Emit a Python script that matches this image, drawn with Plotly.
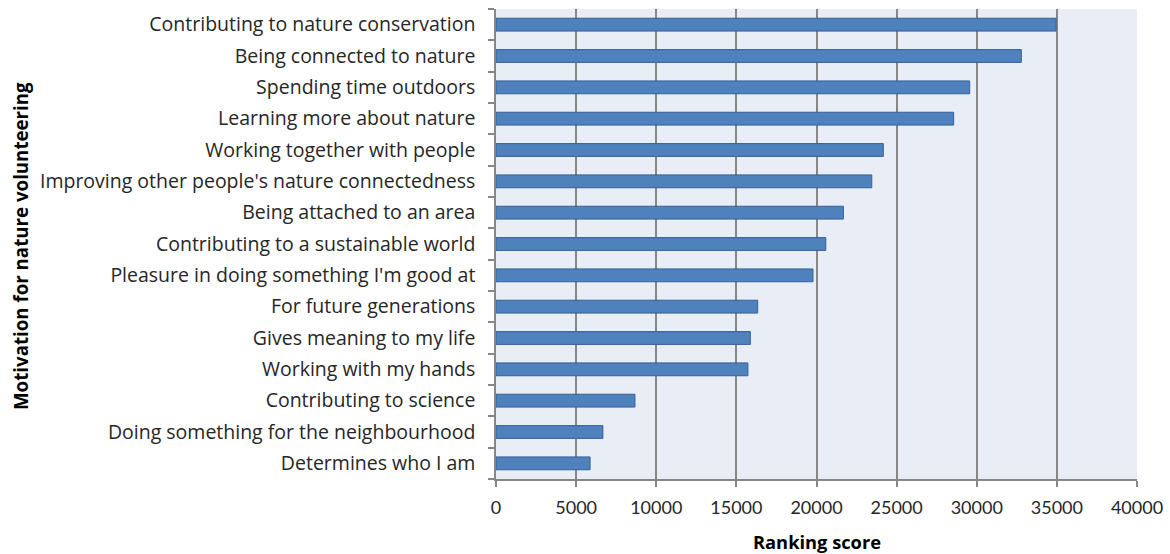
import plotly.graph_objects as go

categories = [
    "Contributing to nature conservation",
    "Being connected to nature",
    "Spending time outdoors",
    "Learning more about nature",
    "Working together with people",
    "Improving other people's nature connectedness",
    "Being attached to an area",
    "Contributing to a sustainable world",
    "Pleasure in doing something I'm good at",
    "For future generations",
    "Gives meaning to my life",
    "Working with my hands",
    "Contributing to science",
    "Doing something for the neighbourhood",
    "Determines who I am",
]
scores = [34950, 32780, 29560, 28560, 24170, 23450, 21680, 20580, 19780,
          16330, 15870, 15720, 8670, 6670, 5870]
x_ticks = [0, 5000, 10000, 15000, 20000, 25000, 30000, 35000, 40000]

FONT = "Open Sans"
TXT = "#262626"
GRID = "#878787"

fig = go.Figure(go.Bar(
    x=scores, y=categories, orientation="h",
    marker=dict(color="#4F81BD", line=dict(color="#35619A", width=1)),
    width=0.41,
))

fig.update_layout(
    width=1170, height=554,
    margin=dict(l=496, r=33, t=9, b=75),
    paper_bgcolor="white", plot_bgcolor="#E9EDF5",
    showlegend=False,
    font=dict(family=FONT, size=18, color=TXT),
)
fig.update_xaxes(
    range=[0, 40000], tickvals=x_ticks, ticktext=[str(v) for v in x_ticks],
    showgrid=True, gridcolor=GRID, gridwidth=1.5,
    showline=True, linecolor=GRID, linewidth=1.5,
    ticks="outside", ticklen=6, tickcolor=GRID, tickwidth=1.5,
    ticklabelstandoff=6,
    tickfont=dict(family="Lato", size=18, color=TXT),
    zeroline=False, automargin=False,
)
fig.update_yaxes(
    categoryorder="array", categoryarray=categories[::-1],
    showgrid=False, showline=True, linecolor=GRID, linewidth=1.5,
    ticks="outside", ticklen=6, tickcolor=GRID, tickwidth=1.5,
    tickson="boundaries", ticklabelstandoff=15,
    tickfont=dict(family=FONT, size=19.5, color=TXT),
    automargin=False,
)
fig.add_annotation(
    text="<b>Ranking score</b>", xref="paper", yref="paper",
    x=0.5, y=0, yshift=-62, xanchor="center", yanchor="middle",
    showarrow=False, font=dict(family=FONT, size=18.3, color="black"),
)
fig.add_annotation(
    text="<b>Motivation for nature volunteering</b>", xref="paper", yref="paper",
    x=0, xshift=-476, y=0.5, yshift=-2, xanchor="center", yanchor="middle",
    textangle=-90, showarrow=False, font=dict(family=FONT, size=18.7, color="black"),
)
fig.write_html("out.html")
